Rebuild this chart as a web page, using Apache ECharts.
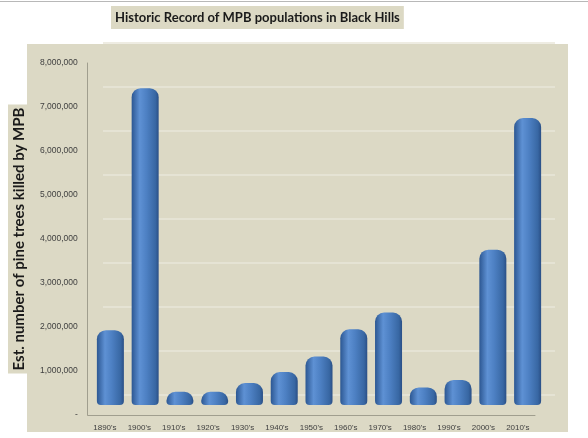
<!DOCTYPE html>
<html>
<head>
<meta charset="utf-8">
<script src="https://cdn.jsdelivr.net/npm/echarts@6/dist/echarts.min.js"></script>
<style>
  html, body { margin: 0; padding: 0; background: #fff; }
  #chart { width: 588px; height: 438px; }
</style>
</head>
<body>
<div id="chart"></div>
<script>
// decades on the x axis
const decades = ["1890's", "1900's", "1910's", "1920's", "1930's", "1940's", "1950's",
  "1960's", "1970's", "1980's", "1990's", "2000's", "2010's"];
// estimated pine trees killed
const treesKilled = [1700000, 7200000, 300000, 300000, 500000, 750000, 1100000,
  1720000, 2100000, 400000, 570000, 3530000, 6520000];
// value axis
const yMin = 0;
const yMax = 8000000;
const yStep = 1000000;

const chart = echarts.init(document.getElementById("chart"));

const labelFont = "'Liberation Sans', Arial, sans-serif";
const titleFont = "Lato, 'Open Sans', sans-serif";

const fmt = (v) => (v === 0 ? "-" : v.toLocaleString("en-US"));

const cylinder = new echarts.graphic.LinearGradient(0, 0, 1, 0, [
  { offset: 0, color: "#2c5792" },
  { offset: 0.3, color: "#5e91d4" },
  { offset: 0.55, color: "#4d80c3" },
  { offset: 0.88, color: "#3867a3" },
  { offset: 1, color: "#2a4f86" },
]);

const hiddenValueAxis = (gridIndex) => ({
  type: "value", gridIndex, min: yMin, max: yMax, interval: yStep,
  axisLine: { show: false }, axisTick: { show: false }, axisLabel: { show: false },
  splitLine: { show: false },
});
const hiddenCatAxis = (gridIndex) => ({
  type: "category", gridIndex, data: decades,
  axisLine: { show: false }, axisTick: { show: false }, axisLabel: { show: false },
});

const option = {
  animation: false,
  backgroundColor: "#ffffff",
  title: {
    text: "Historic Record of MPB populations in Black Hills",
    left: 111,
    top: 6,
    padding: [5, 4, 5, 4],
    backgroundColor: "#dcd9c4",
    textStyle: { fontFamily: titleFont, fontWeight: "bold", fontSize: 13, color: "#1a1a1a" },
  },
  graphic: [
    { type: "rect", z: -10, shape: { x: 27, y: 44, width: 541, height: 388 }, style: { fill: "#dcd9c5" } },
    { type: "line", z: -10, shape: { x1: 0, y1: 1.5, x2: 588, y2: 1.5 }, style: { stroke: "#b8b8b8", lineWidth: 1 } },
  ],
  grid: [
    // back wall
    { left: 103, right: 33, top: 43, bottom: 43 },
    // bars at middle depth
    { left: 93, right: 43, top: 53, bottom: 33 },
    // front axis
    { left: 83, right: 53, top: 63, bottom: 23 },
  ],
  xAxis: [
    {
      type: "category", gridIndex: 0, data: decades,
      axisLine: { show: false }, axisTick: { show: false }, axisLabel: { show: false },
    },
    hiddenCatAxis(1),
    {
      type: "category", gridIndex: 2, data: decades,
      axisLine: { show: true, lineStyle: { color: "#a09e8e" } },
      axisTick: { show: false },
      axisLabel: { fontFamily: labelFont, fontSize: 8, color: "#404040", margin: 9 },
    },
  ],
  yAxis: [
    {
      type: "value", gridIndex: 0, min: yMin, max: yMax, interval: yStep,
      axisLine: { show: false }, axisTick: { show: false }, axisLabel: { show: false },
      splitLine: { show: true, lineStyle: { color: "#e8e6d8", width: 1.5 } },
    },
    hiddenValueAxis(1),
    {
      type: "value", gridIndex: 2, min: yMin, max: yMax, interval: yStep,
      axisLine: { show: true, lineStyle: { color: "#a09e8e" } },
      axisTick: { show: false },
      splitLine: { show: false },
      axisLabel: { fontFamily: labelFont, fontSize: 8.5, color: "#404040", margin: 10, formatter: fmt },
      name: "Est. number of pine trees killed by MPB",
      nameLocation: "middle",
      nameRotate: 90,
      nameGap: 50,
      nameTextStyle: {
        fontFamily: titleFont, fontWeight: "bold", fontSize: 15, color: "#1a1a1a",
        backgroundColor: "#dcd9c4", padding: [4, 3, 2, 3],
      },
    },
  ],
  series: [
    {
      type: "bar",
      xAxisIndex: 1,
      yAxisIndex: 1,
      data: treesKilled,
      barWidth: 27,
      itemStyle: { color: cylinder, borderRadius: [9, 9, 4, 4] },
      z: 5,
    },
  ],
};

chart.setOption(option);
</script>
</body>
</html>
